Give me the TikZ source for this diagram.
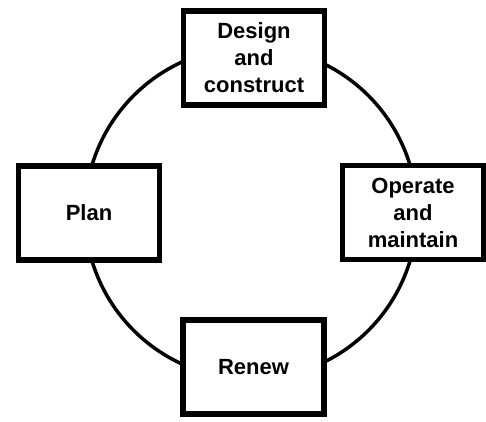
\documentclass[tikz,border=0pt]{standalone}
\usepackage{fontspec}
\setmainfont{Liberation Sans}
\tikzset{
    stagebox/.style={draw, fill=white, line width=5.5pt, minimum width=141pt, minimum height=94pt,
        align=center, inner sep=0pt, font=\fontsize{22}{27}\selectfont\bfseries},
    ring/.style={line width=3.5pt}
}

\begin{document}
\begin{tikzpicture}[x=1pt, y=-1pt]
    \useasboundingbox (0,0) rectangle (486,421);

    % Cycle
    \coordinate (centre) at (251,213);
    \draw[ring] (centre) circle[radius=166pt];

    % Stages
    \node[stagebox] (design) at (254,58) {Design\\and\\construct};
    \node[stagebox] (operate) at (413,212.5) {Operate\\and\\maintain};
    \node[stagebox] (renew) at (253.5,367) {Renew};
    \node[stagebox] (plan) at (89,213) {Plan};
\end{tikzpicture}
\end{document}
